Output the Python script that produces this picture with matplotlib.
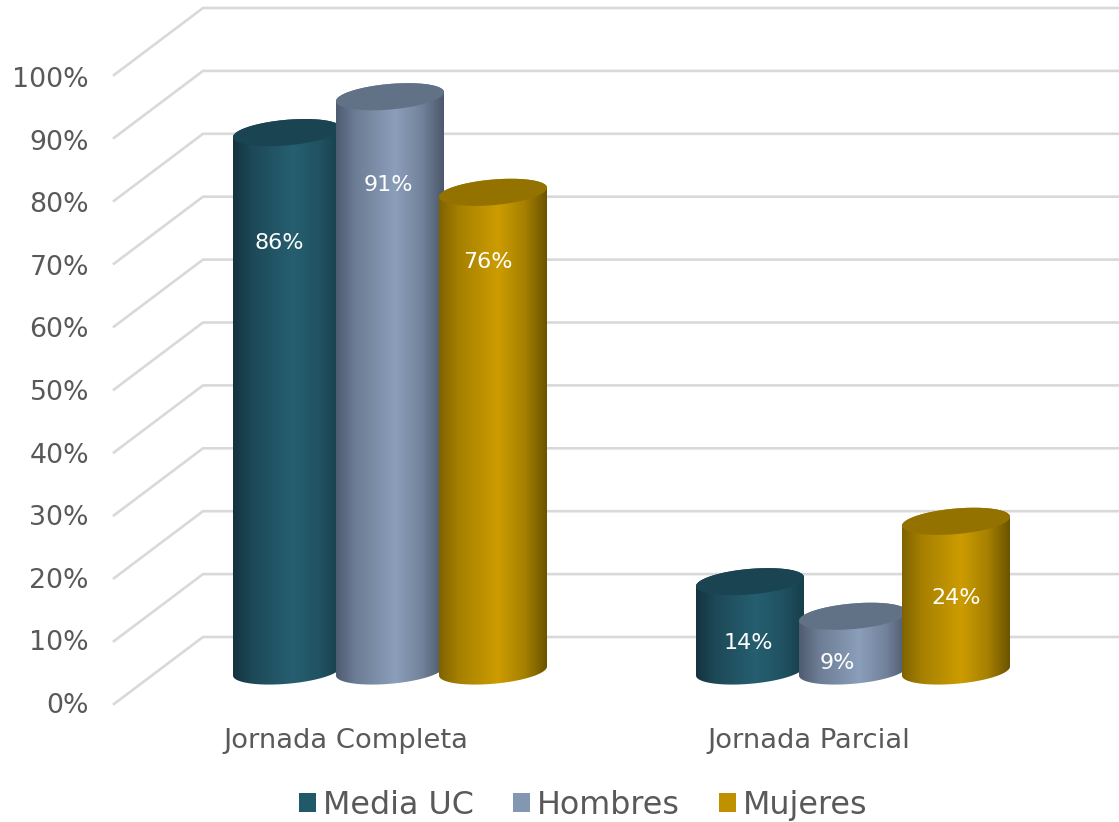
# -*- coding: utf-8 -*-
import numpy as np
import matplotlib
matplotlib.use('Agg')
import matplotlib.pyplot as plt
from matplotlib.colors import LinearSegmentedColormap, to_rgb
from matplotlib.patches import Patch, Polygon

categories = ['Jornada Completa', 'Jornada Parcial']
series = ['Media UC', 'Hombres', 'Mujeres']
media_uc = [85.6, 14.2]
hombres = [91.3, 8.7]
mujeres = [76.1, 23.8]
ticks = list(range(0, 101, 10))
tick_labels = [f'{t}%' for t in ticks]

# colours per series: legend, cap, left edge, peak, right edge
colors = ['#215968', '#8497B0', '#BF9000']
cap_colors = ['#1A4452', '#627286', '#947200']
edge_left = ['#14333F', '#4F5B70', '#7F6300']
peak = ['#265F70', '#8B9EBA', '#CC9C00']
edge_right = ['#173E4B', '#4C586B', '#6B5400']

W, H = 1119, 822
PX_X = 463.0   # pixels per category
PX_Y = 6.29    # pixels per percent
bar_step = 103 / PX_X
half_w = 54 / PX_X
tilt = 4.5 / PX_Y     # the ellipses lean up to the right
minor = 12.8 / PX_Y
wall_dx, wall_dv = 89 / PX_X, 67 / PX_Y

# where the value labels sit (x nudge in pixels, y in percent)
label_dx = [[-8, -2, -5], [-2, -16, 0]]
label_v = [[68.0, 77.3, 65.0], [4.45, 1.27, 11.6]]

fig = plt.figure(figsize=(W / 100, H / 100), dpi=100)
ax = fig.add_axes([0, 0, 1, 1])
ax.axis('off')
xlim = (-390 / PX_X, (W - 390) / PX_X)
ylim = ((671 - H) / PX_Y, 671 / PX_Y)

# 3D walls: back wall line and the diagonal to the front edge
front_x = (114 - 390) / PX_X
wall_x = front_x + wall_dx
front_off = -33 / PX_Y
for t, lab in zip(ticks, tick_labels):
    ax.plot([front_x, wall_x, xlim[1]],
            [t + front_off, t + front_off + wall_dv, t + front_off + wall_dv],
            color='#D9D9D9', lw=1.9, solid_joinstyle='miter', zorder=1)
    # the axis labels run on a slightly tighter step than the grid
    ax.text((89 - 390) / PX_X, (671 - 706) / PX_Y + t * 6.26 / PX_Y, lab,
            ha='right', va='center', fontsize=19.3, color='#595959')


def ellipse(cx, v, t):
    return cx + half_w * np.cos(t), v + tilt * np.cos(t) + minor * np.sin(t)


def cylinder(cx, value, i, z):
    cmap = LinearSegmentedColormap.from_list('c', [
        (0.0, edge_left[i]),
        (0.18, tuple(0.5 * (a + b) for a, b in zip(to_rgb(edge_left[i]), to_rgb(peak[i])))),
        (0.55, peak[i]),
        (0.8, tuple(0.6 * a + 0.4 * b for a, b in zip(to_rgb(peak[i]), to_rgb(edge_right[i])))),
        (1.0, edge_right[i]),
    ])
    t = np.linspace(np.pi, 2 * np.pi, 80)
    bx, by = ellipse(cx, 0, t)
    tt = np.linspace(0, np.pi, 80)
    ux, uy = ellipse(cx, value, tt)
    body = Polygon(np.column_stack([np.r_[bx, ux], np.r_[by, uy]]), closed=True,
                   fc='none', ec='none', zorder=z)
    ax.add_patch(body)
    grad = np.linspace(0, 1, 256).reshape(1, -1)
    im = ax.imshow(grad, cmap=cmap, aspect='auto', interpolation='bilinear', zorder=z,
                   extent=(cx - half_w, cx + half_w, -minor * 2, value + minor * 2))
    im.set_clip_path(body)
    full = np.linspace(0, 2 * np.pi, 160)
    cx_, cy_ = ellipse(cx, value, full)
    ax.fill(cx_, cy_, color=cap_colors[i], lw=0, zorder=z + 0.1)


values = [media_uc, hombres, mujeres]
for g in range(len(categories)):
    for i in range(len(series)):
        cx = g + (i - 1) * bar_step
        cylinder(cx, values[i][g], i, 2 + i)
        ax.text(cx + label_dx[g][i] / PX_X, label_v[g][i],
                f'{values[i][g]:.0f}%', ha='center', va='center',
                fontsize=16, color='white', zorder=6)
    ax.text(g - 44.5 / PX_X, (671 - 741) / PX_Y, categories[g], ha='center', va='center',
            fontsize=19.7, color='#595959')

handles = [Patch(fc=c, ec='none') for c in colors]
ax.legend(handles, series, ncol=3, frameon=False, loc='center',
          bbox_to_anchor=(583 / W, 1 - 805 / H), fontsize=22.9, labelcolor='#595959',
          handlelength=0.55, handleheight=0.55, handletextpad=0.2, columnspacing=1.24)

ax.set_xlim(*xlim)
ax.set_ylim(*ylim)
fig.savefig('out.png', dpi=100)
plt.close('all')
